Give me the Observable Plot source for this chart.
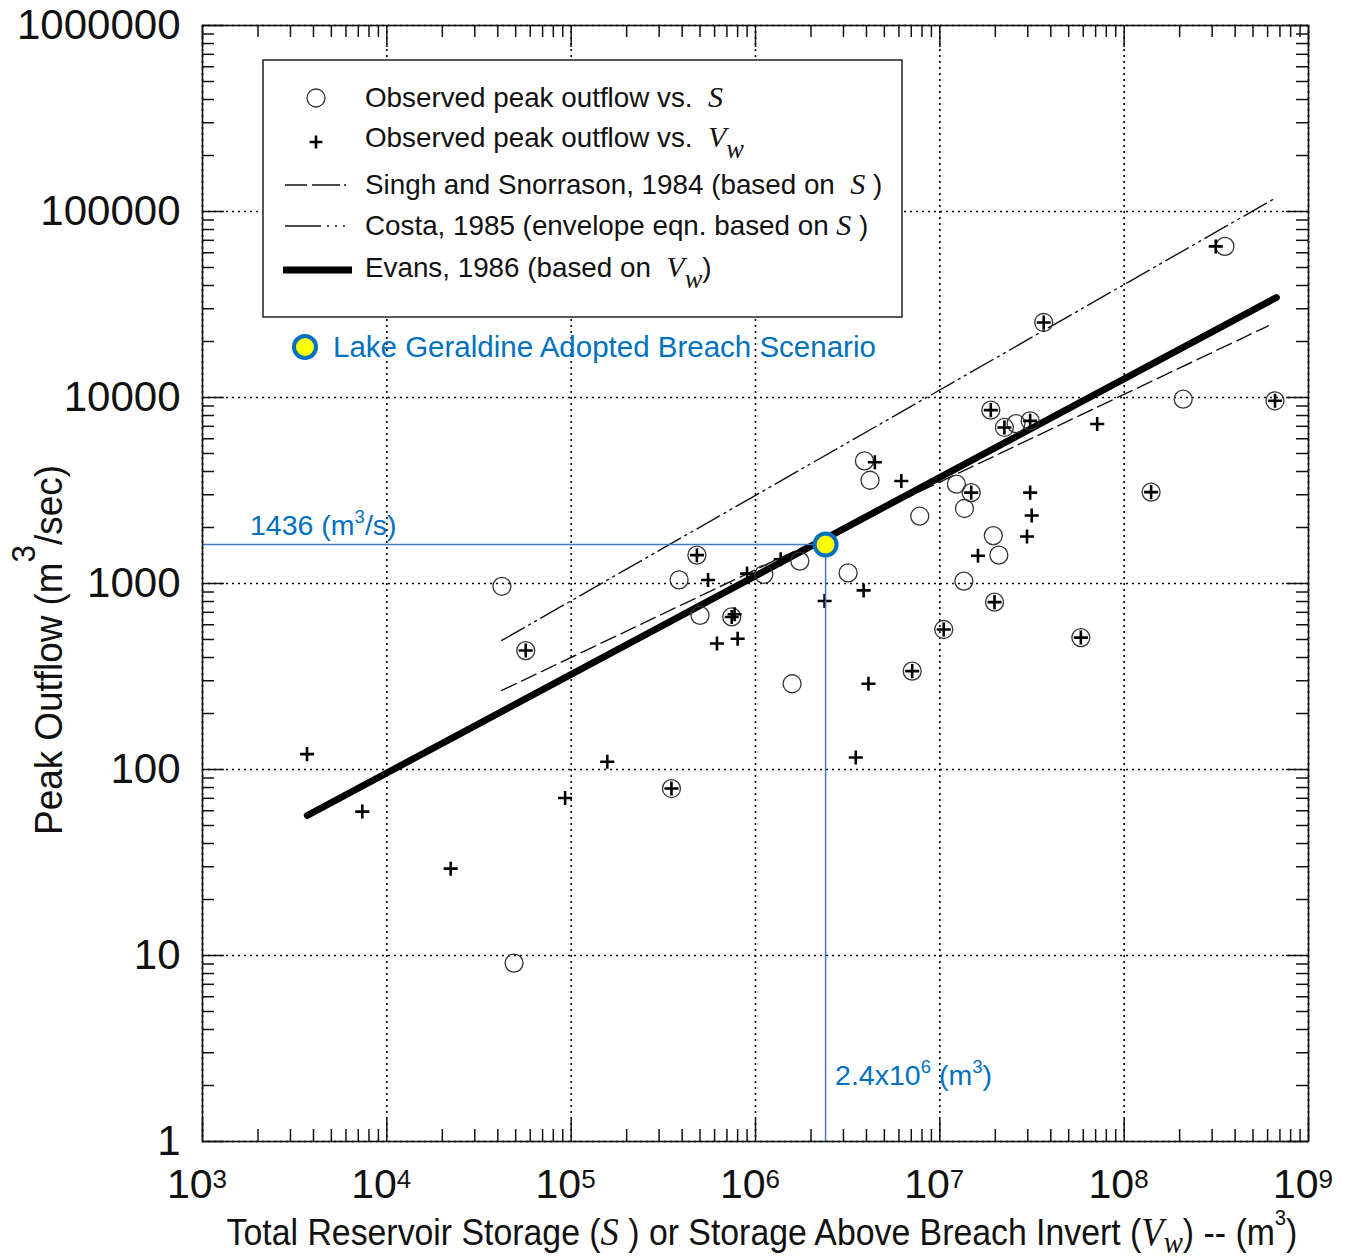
<!DOCTYPE html>
<html>
<head>
<meta charset="utf-8">
<script src="https://cdn.jsdelivr.net/npm/d3@7"></script>
<script src="https://cdn.jsdelivr.net/npm/@observablehq/plot@0.6"></script>
<style>
  html, body { margin: 0; padding: 0; background: #fff; }
  #chart svg { display: block; }
</style>
</head>
<body>
<div id="chart"></div>
<script>
// ---------------- data ----------------
// Observed peak outflow vs. total storage S (open circles)
const storageS = [4.21e4, 4.9e4, 5.67e4, 3.5e5, 3.85e5, 4.81e5, 5.0e5, 7.43e5, 1.11e6, 1.58e6, 1.74e6, 3.18e6, 3.9e6, 4.18e6, 7.08e6, 7.78e6, 1.05e7, 1.23e7, 1.35e7, 1.36e7, 1.48e7, 1.89e7, 1.95e7, 1.98e7, 2.09e7, 2.24e7, 2.59e7, 3.09e7, 3.66e7, 5.82e7, 1.4e8, 2.09e8, 3.52e8, 6.58e8];
const peakS    = [966, 9.1, 436, 79, 1045, 1420, 674, 661, 1120, 289, 1320, 1140, 4560, 3590, 338, 2300, 566, 3420, 1030, 2530, 3080, 8550, 1810, 794, 1420, 6900, 7240, 7490, 25300, 512, 3100, 9800, 64900, 9600];

// Observed peak outflow vs. storage above breach invert Vw (plus markers)
const storageVw = [3690, 7360, 2.22e4, 5.67e4, 9.27e4, 1.57e5, 3.5e5, 4.81e5, 5.53e5, 6.18e5, 7.43e5, 7.7e5, 8.0e5, 9.0e5, 1.37e6, 2.37e6, 3.5e6, 3.86e6, 4.1e6, 4.44e6, 6.18e6, 7.08e6, 1.05e7, 1.48e7, 1.61e7, 1.89e7, 1.98e7, 2.24e7, 2.97e7, 3.09e7, 3.09e7, 3.15e7, 3.66e7, 5.82e7, 7.14e7, 1.4e8, 3.14e8, 6.58e8];
const peakVw    = [121, 59.4, 29.3, 436, 70.3, 110, 79, 1420, 1045, 476, 661, 683, 505, 1130, 1350, 805, 116, 918, 289, 4490, 3560, 338, 566, 3080, 1410, 8550, 794, 6900, 1790, 7490, 3080, 2320, 25300, 512, 7200, 3100, 64900, 9600];

// Prediction lines (end points)
const singhStorage = [4.2e4, 6.05e8];
const singhPeak    = [266, 24300];
const costaStorage = [4.2e4, 6.6e8];
const costaPeak    = [494, 118000];
const evansStorage = [3.7e3, 6.7e8];
const evansPeak    = [56.6, 34500];

// Lake Geraldine adopted breach scenario
const geraldineStorage = [2.4e6];
const geraldinePeak    = [1620];
const geraldineName    = "Lake Geraldine Adopted Breach Scenario";

// Axes
const xDomain = [1e3, 1e9];
const yDomain = [1, 1e6];
const xMajor = [1e3, 1e4, 1e5, 1e6, 1e7, 1e8, 1e9];
const xTickExponents = ["3", "4", "5", "6", "7", "8", "9"];
const yMajor = [1, 10, 100, 1000, 10000, 100000, 1000000];
const yTickLabels = ["1", "10", "100", "1000", "10000", "100000", "1000000"];

// Legend labels
const legendLabels = [
  [{t: "Observed peak outflow vs.  "}, {t: "S", it: true}],
  [{t: "Observed peak outflow vs.  "}, {t: "V", it: true}, {t: "w", it: true, sub: true}],
  [{t: "Singh and Snorrason, 1984 (based on  "}, {t: "S", it: true}, {t: " )"}],
  [{t: "Costa, 1985 (envelope eqn. based on "}, {t: "S", it: true}, {t: " )"}],
  [{t: "Evans, 1986 (based on  "}, {t: "V", it: true}, {t: "w", it: true, sub: true}, {t: ")"}]
];

// ---------------- build tables ----------------
const sPts = storageS.map((s, i) => ({s, q: peakS[i]}));
const vPts = storageVw.map((s, i) => ({s, q: peakVw[i]}));
const singh = singhStorage.map((s, i) => ({s, q: singhPeak[i]}));
const costa = costaStorage.map((s, i) => ({s, q: costaPeak[i]}));
const evans = evansStorage.map((s, i) => ({s, q: evansPeak[i]}));
const geraldine = geraldineStorage.map((s, i) => ({s, q: geraldinePeak[i]}));

const xMinor = d3.scaleLog().domain(xDomain).ticks().filter(v => !xMajor.includes(v));
const yMinor = d3.scaleLog().domain(yDomain).ticks().filter(v => !yMajor.includes(v));

const W = 1351, H = 1260;
const mL = 202, mR = 43, mT = 25, mB = 119;
const fW = W - mL - mR, fH = H - mT - mB;
const INK = "#111";
const BLUE = "#0070C0";
const LINEBLUE = "#4477C6";
const SANS = "'Liberation Sans', Arial, Helvetica, sans-serif";
const SERIF = "'Liberation Serif', 'Times New Roman', serif";

const gridStyle = {stroke: "#000", strokeOpacity: 1, strokeWidth: 1.6, strokeDasharray: "2,4"};
const tickStyle = {stroke: INK, strokeWidth: 1.5};

const svg = Plot.plot({
  width: W, height: H,
  marginLeft: mL, marginRight: mR, marginTop: mT, marginBottom: mB,
  style: {background: "#fff", fontFamily: SANS, color: INK, overflow: "visible"},
  x: {type: "log", domain: xDomain, axis: null},
  y: {type: "log", domain: yDomain, axis: null},
  marks: [
    Plot.gridX(xMajor, gridStyle),
    Plot.gridY(yMajor, gridStyle),
    // inward ticks on all four sides
    Plot.tickX(xMajor, {x: d => d, insetTop: fH - 22, ...tickStyle}),
    Plot.tickX(xMajor, {x: d => d, insetBottom: fH - 22, ...tickStyle}),
    Plot.tickX(xMinor, {x: d => d, insetTop: fH - 12, ...tickStyle}),
    Plot.tickX(xMinor, {x: d => d, insetBottom: fH - 12, ...tickStyle}),
    Plot.tickY(yMajor, {y: d => d, insetRight: fW - 22, ...tickStyle}),
    Plot.tickY(yMajor, {y: d => d, insetLeft: fW - 22, ...tickStyle}),
    Plot.tickY(yMinor, {y: d => d, insetRight: fW - 12, ...tickStyle}),
    Plot.tickY(yMinor, {y: d => d, insetLeft: fW - 12, ...tickStyle}),
    // tick labels
    Plot.text(yMajor, {y: d => d, frameAnchor: "left", dx: -22, textAnchor: "end",
      text: (d, i) => yTickLabels[i], fontSize: 42, fill: INK}),
    Plot.text(xMajor, {x: d => d, frameAnchor: "bottom", dy: 56, dx: 10, textAnchor: "end",
      text: () => "10", fontSize: 41, fill: INK}),
    Plot.text(xMajor, {x: d => d, frameAnchor: "bottom", dy: 46, dx: 10, textAnchor: "start",
      text: (d, i) => xTickExponents[i], fontSize: 26, fill: INK}),
    // prediction lines
    Plot.line(singh, {x: "s", y: "q", stroke: INK, strokeWidth: 1.4, strokeDasharray: "16,6"}),
    Plot.line(costa, {x: "s", y: "q", stroke: INK, strokeWidth: 1.4, strokeDasharray: "26,5,2,5,2,5"}),
    Plot.line(evans, {x: "s", y: "q", stroke: "#000", strokeWidth: 6.8, strokeLinecap: "round"}),
    // observations
    Plot.dot(sPts, {x: "s", y: "q", r: 9, stroke: "#333", strokeWidth: 1.3, fill: "none"}),
    Plot.dot(vPts, {x: "s", y: "q", symbol: "plus", r: 4.6, stroke: "#000", strokeWidth: 2.6}),
    // Lake Geraldine annotation
    Plot.ruleY(geraldine, {y: "q", x1: () => xDomain[0], x2: "s", stroke: LINEBLUE, strokeWidth: 1.5}),
    Plot.ruleX(geraldine, {x: "s", y1: () => yDomain[0], y2: "q", stroke: LINEBLUE, strokeWidth: 1.5}),
    Plot.dot(geraldine, {x: "s", y: "q", r: 11, fill: "#FFFF00", stroke: BLUE, strokeWidth: 4}),
    Plot.frame({stroke: INK, strokeWidth: 1.6})
  ]
});

document.getElementById("chart").appendChild(svg);

// ---------------- decorations: rich text, legend ----------------
const root = d3.select(svg);
const sx = svg.scale("x"), sy = svg.scale("y");

function rich(parent, x, y, parts, o) {
  const size = o.size;
  const t = parent.append("text")
    .attr("x", x).attr("y", y)
    .attr("font-family", o.family || SANS)
    .attr("font-size", size)
    .attr("fill", o.fill || INK)
    .attr("text-anchor", o.anchor || "start")
    .style("white-space", "pre");
  let shift = 0;
  for (const p of parts) {
    const ts = t.append("tspan").text(p.t);
    if (p.it) ts.attr("font-family", SERIF).attr("font-style", "italic");
    let target = 0, fs = p.it ? size * 1.08 : size;
    if (p.sub) { target = size * (p.subShift || 0.38); fs = size * (p.subSize || 0.95); }
    if (p.sup) { target = -size * (p.supShift || 0.42); fs = size * (p.supSize || 0.65); }
    ts.attr("font-size", fs);
    const dy = target - shift; shift = target;
    if (dy) ts.attr("dy", dy);
    if (p.dx) ts.attr("dx", p.dx);
  }
  return t;
}

// Legend box
const leg = root.append("g");
leg.append("rect").attr("x", 263).attr("y", 60).attr("width", 639).attr("height", 257)
  .attr("fill", "#fff").attr("stroke", "#222").attr("stroke-width", 1.5);
const rowY = [98, 138, 185, 226, 268];
// symbols
leg.append("circle").attr("cx", 316).attr("cy", rowY[0]).attr("r", 9)
  .attr("fill", "none").attr("stroke", "#333").attr("stroke-width", 1.3);
leg.append("path").attr("d", d3.symbol(d3.symbolPlus, Math.PI * 4.2 * 4.2)())
  .attr("transform", `translate(316,${rowY[1] + 4})`)
  .attr("fill", "none").attr("stroke", "#000").attr("stroke-width", 2.6);
leg.append("line").attr("x1", 285).attr("x2", 350).attr("y1", rowY[2]).attr("y2", rowY[2])
  .attr("stroke", INK).attr("stroke-width", 1.3).attr("stroke-dasharray", "22,5,28,4,2,40");
leg.append("line").attr("x1", 285).attr("x2", 350).attr("y1", rowY[3]).attr("y2", rowY[3])
  .attr("stroke", INK).attr("stroke-width", 1.3).attr("stroke-dasharray", "36,6,2,6,2,6,2,40");
leg.append("line").attr("x1", 283).attr("x2", 352).attr("y1", rowY[4] + 2).attr("y2", rowY[4] + 2)
  .attr("stroke", "#000").attr("stroke-width", 7);
legendLabels.forEach((parts, i) => {
  rich(leg, 365, rowY[i] + 9, parts, {size: 27.8});
});

// Lake Geraldine legend entry
const gx = sx.apply(geraldineStorage[0]), gy = sy.apply(geraldinePeak[0]);
root.append("circle").attr("cx", 305).attr("cy", 347).attr("r", 11)
  .attr("fill", "#FFFF00").attr("stroke", BLUE).attr("stroke-width", 4);
rich(root, 333, 357, [{t: geraldineName}], {size: 29.5, fill: BLUE});

// annotation labels
rich(root, sx.apply(xDomain[0]) + 48, gy - 9,
  [{t: "1436 (m"}, {t: "3", sup: true}, {t: "/s)"}], {size: 28.5, fill: BLUE});
rich(root, gx + 10, sy.apply(yDomain[0]) - 56,
  [{t: "2.4x10"}, {t: "6", sup: true}, {t: " (m"}, {t: "3", sup: true}, {t: ")"}], {size: 28.5, fill: BLUE});

// fit a text element horizontally to a target length
function fit(t, target, cx, cy, rotate) {
  const len = t.node().getComputedTextLength();
  const k = target / len;
  t.attr("x", 0).attr("y", 0).attr("text-anchor", "middle")
    .attr("transform", `translate(${cx},${cy})${rotate ? " rotate(-90)" : ""} scale(${k},1)`);
}

// x-axis title
const xt = rich(root, 0, 0, [
  {t: "Total Reservoir Storage ("}, {t: "S", it: true}, {t: " ) or Storage Above Breach Invert ("},
  {t: "V", it: true}, {t: "w", it: true, sub: true, subShift: 0.22, subSize: 0.85}, {t: ") -- (m"}, {t: "3", sup: true, supShift: 0.55, supSize: 0.6}, {t: ")"}
], {size: 37});
fit(xt, 1071, 762, 1245, false);

// y-axis title
const yt = rich(root, 0, 0, [
  {t: "Peak Outflow (m"}, {t: "3", sup: true, supShift: 0.72, supSize: 0.85}, {t: "/sec)"}
], {size: 38});
fit(yt, 370, 62, 650, true);
</script>
</body>
</html>
